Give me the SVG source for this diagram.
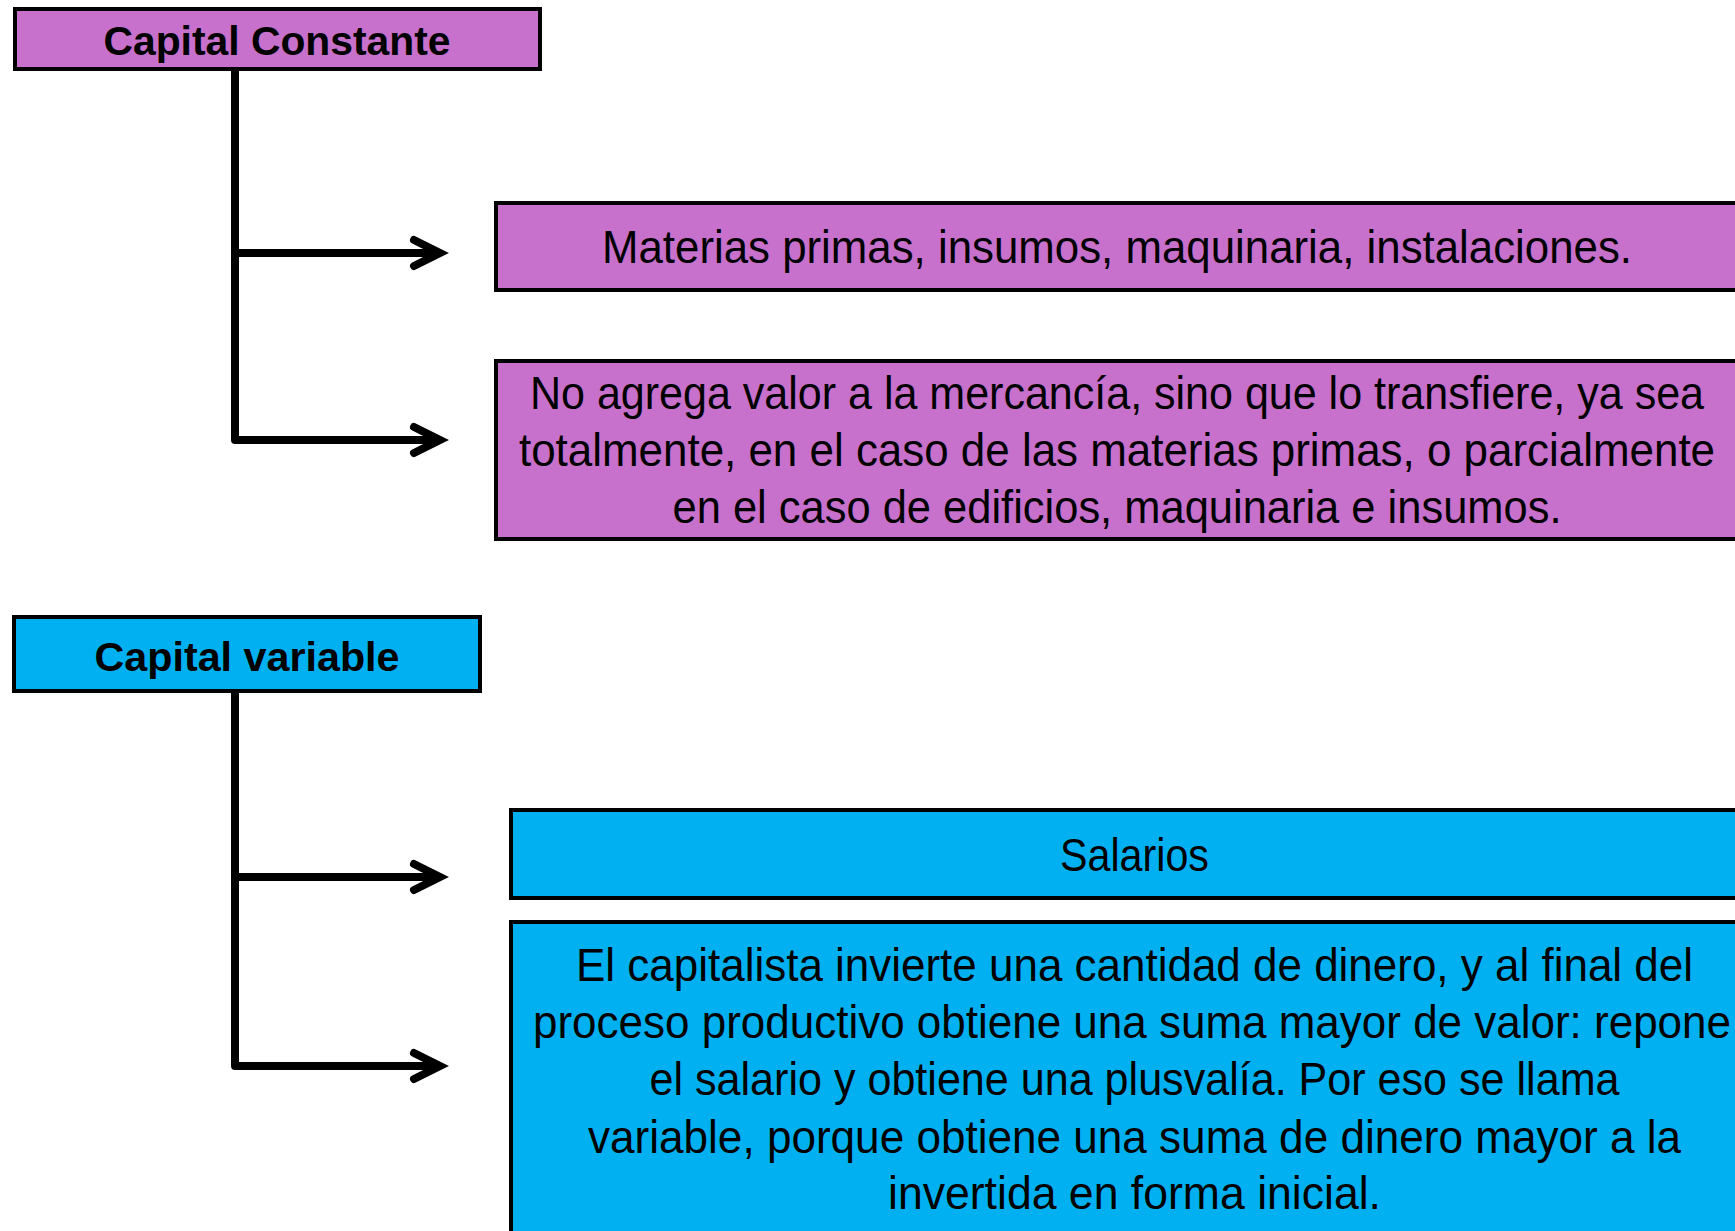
<svg xmlns="http://www.w3.org/2000/svg" width="1735" height="1231" viewBox="0 0 1735 1231">
<style>
.box{stroke:#000;stroke-width:4}
.p{fill:#C770CC}
.b{fill:#00B0F0}
.t{font-family:"Liberation Sans",Arial,sans-serif;font-size:46px;fill:#000;text-anchor:middle}
.h{font-family:"Liberation Sans",Arial,sans-serif;font-size:41px;font-weight:bold;fill:#000;text-anchor:middle}
.c{fill:none;stroke:#000;stroke-width:8;stroke-linejoin:round;marker-end:url(#arr)}
</style>
<defs>
<marker id="arr" markerUnits="userSpaceOnUse" markerWidth="50" markerHeight="50" viewBox="-40 -25 50 50" refX="0" refY="0" orient="auto" overflow="visible">
<path d="M-26,-13 L0,0 L-26,13" fill="none" stroke="#000" stroke-width="8" stroke-linecap="round" stroke-linejoin="miter"/>
</marker>
</defs>
<rect width="1735" height="1231" fill="#fff"/>
<g id="connectors">
<path class="c" d="M235,71 V440 H440"/>
<path class="c" d="M235,253 H440"/>
<path class="c" d="M235,693 V1066 H440"/>
<path class="c" d="M235,877 H440"/>
</g>
<g id="capital-constante">
<rect class="box p" x="15" y="9" width="525" height="60"/>
<text class="h" x="277" y="55" textLength="347" lengthAdjust="spacingAndGlyphs">Capital Constante</text>
</g>
<g id="materias">
<rect class="box p" x="496" y="203" width="1250" height="87"/>
<text class="t" x="1117" y="263" textLength="1030" lengthAdjust="spacingAndGlyphs">Materias primas, insumos, maquinaria, instalaciones.</text>
</g>
<g id="no-agrega">
<rect class="box p" x="496" y="361" width="1250" height="178"/>
<text class="t" x="1117" y="409" textLength="1174" lengthAdjust="spacingAndGlyphs">No agrega valor a la mercancía, sino que lo transfiere, ya sea</text>
<text class="t" x="1117" y="466" textLength="1196" lengthAdjust="spacingAndGlyphs">totalmente, en el caso de las materias primas, o parcialmente</text>
<text class="t" x="1117" y="523" textLength="889" lengthAdjust="spacingAndGlyphs">en el caso de edificios, maquinaria e insumos.</text>
</g>
<g id="capital-variable">
<rect class="box b" x="14" y="617" width="466" height="74"/>
<text class="h" x="247" y="671" textLength="305" lengthAdjust="spacingAndGlyphs">Capital variable</text>
</g>
<g id="salarios">
<rect class="box b" x="511" y="810" width="1250" height="88"/>
<text class="t" x="1134.5" y="871" textLength="149" lengthAdjust="spacingAndGlyphs">Salarios</text>
</g>
<g id="el-capitalista">
<rect class="box b" x="511" y="922" width="1250" height="340"/>
<text class="t" x="1134.5" y="981" textLength="1117" lengthAdjust="spacingAndGlyphs">El capitalista invierte una cantidad de dinero, y al final del</text>
<text class="t" x="1132" y="1038" textLength="1198" lengthAdjust="spacingAndGlyphs">proceso productivo obtiene una suma mayor de valor: repone</text>
<text class="t" x="1134.5" y="1095" textLength="970" lengthAdjust="spacingAndGlyphs">el salario y obtiene una plusvalía. Por eso se llama</text>
<text class="t" x="1134.5" y="1153" textLength="1093" lengthAdjust="spacingAndGlyphs">variable, porque obtiene una suma de dinero mayor a la</text>
<text class="t" x="1134.5" y="1209" textLength="493" lengthAdjust="spacingAndGlyphs">invertida en forma inicial.</text>
</g>
</svg>
